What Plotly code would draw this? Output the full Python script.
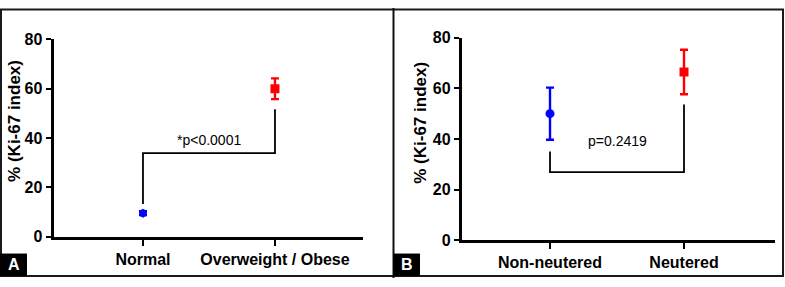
import plotly.graph_objects as go

W, H = 785, 287

# Panel A data
cats_a = ["Normal", "Overweight / Obese"]
mean_a = [9.6, 60.0]
err_a = [0.8, 4.2]
colors_a = ["#0000FF", "#FF0000"]
symbols_a = ["hexagon", "square"]
bracket_a_y = [13.3, 33.9, 33.9, 51.7]
p_a = "*p<0.0001"
p_a_y = 39.4

# Panel B data
cats_b = ["Non-neutered", "Neutered"]
mean_b = [50.0, 66.5]
err_b = [10.3, 8.8]
colors_b = ["#0000FF", "#FF0000"]
symbols_b = ["circle", "square"]
bracket_b_y = [35.0, 26.9, 26.9, 53.6]
p_b = "p=0.2419"
p_b_y = 39.3

y_ticks = [0, 20, 40, 60, 80]
y_title = "% (Ki-67 index)"

fig = go.Figure()

def add_panel(cats, mean, err, colors, symbols, bracket_y, xa, ya):
    for i in range(len(cats)):
        fig.add_trace(go.Scatter(
            x=[i], y=[mean[i]], mode="markers",
            marker=dict(color=colors[i], symbol=symbols[i], size=9, line=dict(width=0)),
            error_y=dict(type="data", array=[err[i]], color=colors[i], thickness=2.4, width=4),
            xaxis=xa, yaxis=ya, showlegend=False, hoverinfo="skip"))
    fig.add_trace(go.Scatter(
        x=[0, 0, 1, 1], y=bracket_y, mode="lines",
        line=dict(color="black", width=1.8),
        xaxis=xa, yaxis=ya, showlegend=False, hoverinfo="skip"))

add_panel(cats_a, mean_a, err_a, colors_a, symbols_a, bracket_a_y, "x", "y")
add_panel(cats_b, mean_b, err_b, colors_b, symbols_b, bracket_b_y, "x2", "y2")

tickfont = dict(family="Liberation Sans, Arial, sans-serif", size=16, color="black", weight="bold")
xcommon = dict(showline=True, linecolor="black", linewidth=2.8, ticks="outside",
               ticklen=6, tickwidth=2, tickcolor="black", showgrid=False, zeroline=False,
               tickfont=tickfont, tickmode="array", tickvals=[0, 1], fixedrange=True)
ycommon = dict(showline=True, linecolor="black", linewidth=2.8, ticks="outside",
               ticklen=5, tickwidth=2, tickcolor="black", showgrid=False, zeroline=False,
               tickfont=tickfont, tickmode="array", tickvals=y_ticks, range=[0, 80], fixedrange=True)

fig.update_layout(
    width=W, height=H, margin=dict(l=0, r=0, t=0, b=0),
    paper_bgcolor="white", plot_bgcolor="white",
    xaxis=dict(xcommon, domain=[53.5 / W, 363 / W], range=[-0.678, 1.667], ticktext=cats_a, anchor="y"),
    yaxis=dict(ycommon, domain=[1 - 243.3 / H, 1 - 33.3 / H], anchor="x"),
    xaxis2=dict(xcommon, domain=[461.7 / W, 775 / W], range=[-0.659, 1.679], ticktext=cats_b, anchor="y2"),
    yaxis2=dict(ycommon, domain=[1 - 246.7 / H, 1 - 31.7 / H], anchor="x2"),
)

ann_font = dict(family="Liberation Sans, Arial, sans-serif", size=14, color="black")
title_font = dict(family="Liberation Sans, Arial, sans-serif", size=17, color="black", weight="bold")
fig.add_annotation(x=0.5, y=p_a_y, xref="x", yref="y", text=p_a, showarrow=False, font=ann_font)
fig.add_annotation(x=0.5, y=p_b_y, xref="x2", yref="y2", text=p_b, showarrow=False, font=ann_font)
fig.add_annotation(x=15 / W, y=1 - 120 / H, xref="paper", yref="paper", text=y_title, textangle=-90,
                   showarrow=False, font=title_font, xanchor="center", yanchor="middle")
fig.add_annotation(x=421 / W, y=1 - 122 / H, xref="paper", yref="paper", text=y_title, textangle=-90,
                   showarrow=False, font=title_font, xanchor="center", yanchor="middle")

# frame and panel labels
shapes = [
    dict(type="rect", xref="paper", yref="paper", x0=1 / W, x1=783 / W, y0=1 - 285 / H, y1=1 - 1.5 / H,
         line=dict(color="#1a1a1a", width=2), layer="above"),
    dict(type="line", xref="paper", yref="paper", x0=393.5 / W, x1=393.5 / W, y0=0, y1=1,
         line=dict(color="#111", width=2)),
    dict(type="rect", xref="paper", yref="paper", x0=0, x1=27 / W, y0=1 - 285 / H, y1=1 - 261 / H,
         fillcolor="black", line=dict(width=0)),
    dict(type="rect", xref="paper", yref="paper", x0=393.5 / W, x1=420 / W, y0=1 - 285 / H, y1=1 - 261 / H,
         fillcolor="black", line=dict(width=0)),
]
fig.update_layout(shapes=shapes)
lab_font = dict(family="Liberation Sans, Arial, sans-serif", size=16, color="white", weight="bold")
fig.add_annotation(x=13.5 / W, y=1 - 273 / H, xref="paper", yref="paper", text="A", showarrow=False,
                   font=lab_font, xanchor="center", yanchor="middle")
fig.add_annotation(x=407 / W, y=1 - 273 / H, xref="paper", yref="paper", text="B", showarrow=False,
                   font=lab_font, xanchor="center", yanchor="middle")

fig.write_html("out.html", config={"displayModeBar": False},
               post_script="document.body.style.margin='0';document.body.style.overflow='hidden';")
